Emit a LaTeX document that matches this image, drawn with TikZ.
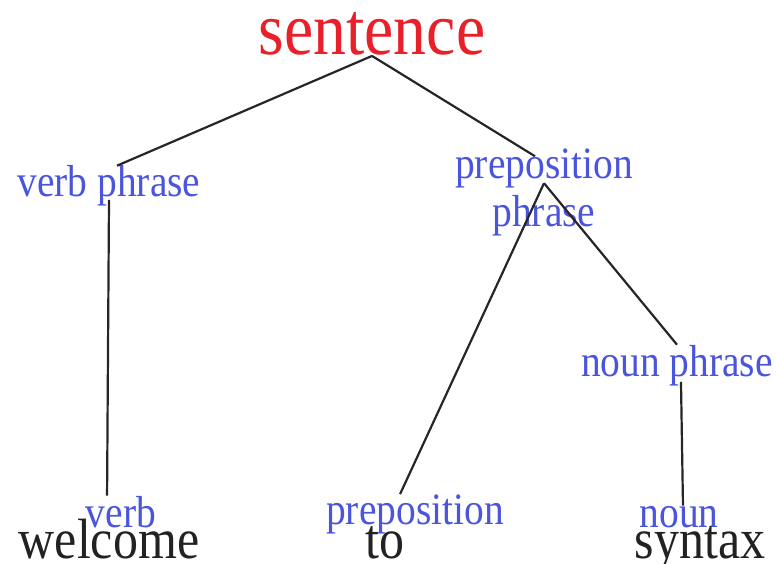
\documentclass[tikz,border=0pt]{standalone}
\usepackage{fontspec}
\newfontfamily\treefont{Liberation Serif}[FakeStretch=0.88]
\usetikzlibrary{positioning}
\definecolor{rootred}{HTML}{E8202A}
\definecolor{phraseblue}{HTML}{4A55DC}
\definecolor{wordblack}{HTML}{222222}
\begin{document}
\begin{tikzpicture}[x=1bp, y=-1bp,
  root/.style={font=\treefont\fontsize{75}{80}\selectfont, text=rootred, inner sep=0pt, anchor=base},
  cat/.style={font=\treefont\fontsize{45}{49}\selectfont, text=phraseblue, inner sep=0pt, anchor=base, align=center},
  word/.style={font=\treefont\fontsize{57}{62}\selectfont, text=wordblack, inner sep=0pt, anchor=base},
  branch/.style={line width=2.2bp, draw=black!85}]
\useasboundingbox (0,0) rectangle (776,564);

% ---------------- phrase level
\node[root] (sent) at (372,55) {sentence};
\node[cat] (vp) at (109,197) {verb phrase};
\node[cat] (pp) at (544,227) {preposition\\phrase};
\node[cat] (np) at (677,376) {noun phrase};
\coordinate (ppfork) at ([yshift=-35pt]pp.north);

% ---------------- word level
\node[cat] (verb) at (121,527) {verb};
\node[cat] (prep) at (415,524) {preposition};
\node[cat] (noun) at (679,527) {noun};
\node[word] (welcome) at (109,558) {welcome};
\node[word] (to) at (385,558) {to};
\node[word] (syntax) at (700,558) {syntax};

\draw[branch] (sent.south) -- ([xshift=8pt]vp.north);
\draw[branch] (sent.south) -- ([xshift=-9pt, yshift=-8pt]pp.north);
\draw[branch] ([yshift=7pt]vp.south) -- ([xshift=-14pt]verb.north);
\draw[branch] (ppfork) -- ([xshift=-15pt]prep.north);
\draw[branch] (ppfork) -- (np.north);
\draw[branch] ([xshift=4pt, yshift=4pt]np.south) -- ([xshift=4pt]noun.north);
\end{tikzpicture}
\end{document}
